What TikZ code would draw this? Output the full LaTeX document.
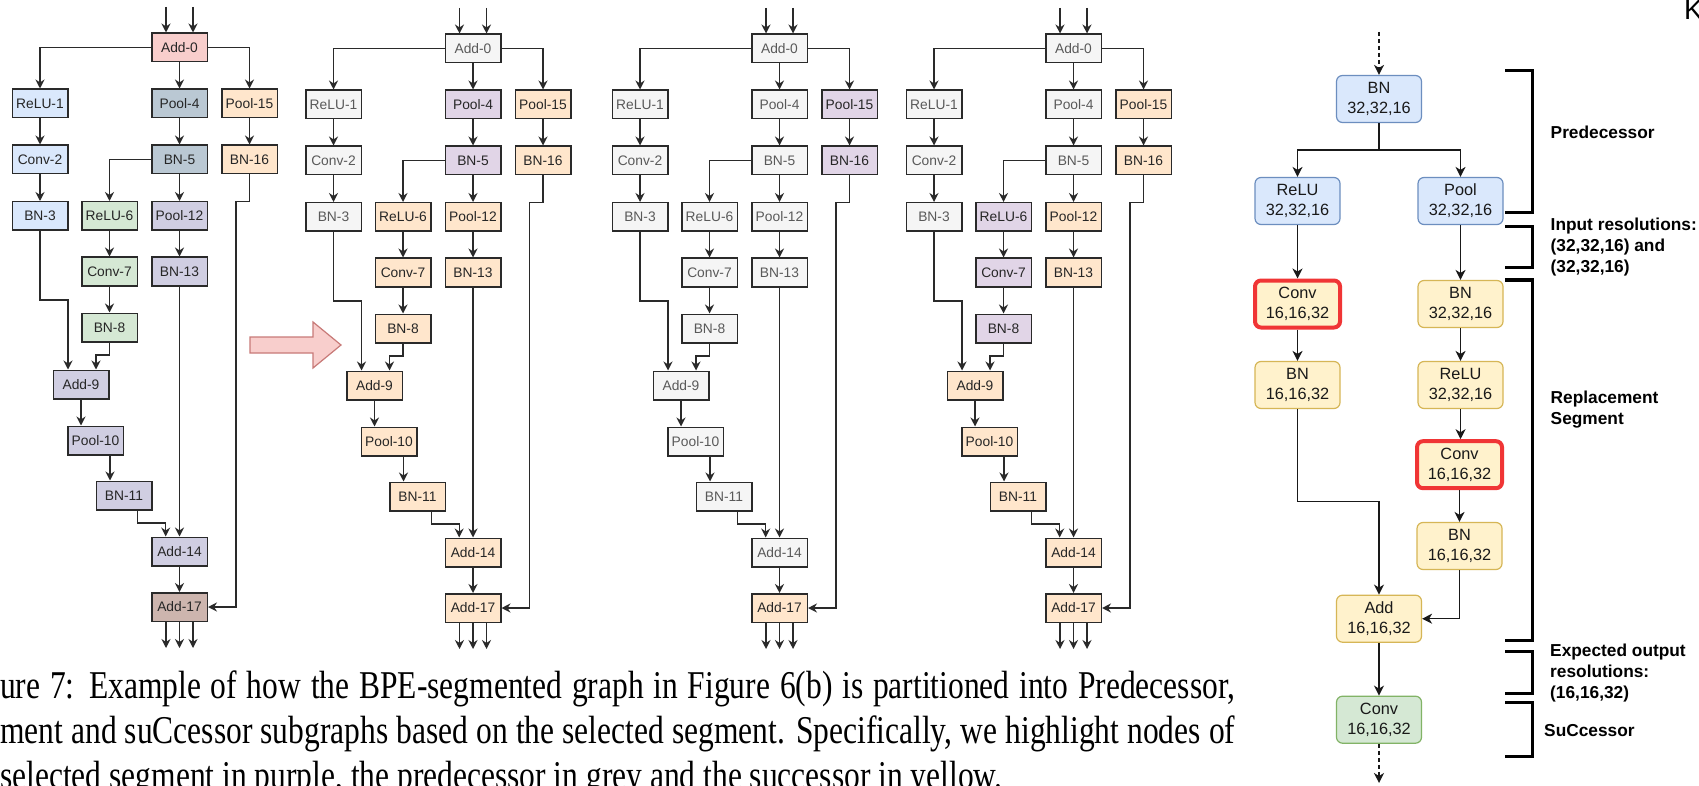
\documentclass[tikz,border=0pt]{standalone}
\usepackage{fontspec}
\usepackage{graphicx}
\setmainfont{Liberation Serif}
\setsansfont{Liberation Sans}
\usetikzlibrary{arrows.meta,calc}
\definecolor{cPink}{HTML}{F8CECC}
\definecolor{cBlue}{HTML}{DAE8FC}
\definecolor{cSlate}{HTML}{BAC8D3}
\definecolor{cGreen}{HTML}{D5E8D4}
\definecolor{cLav}{HTML}{D0CEE2}
\definecolor{cOrange}{HTML}{FFE6CC}
\definecolor{cGrey}{HTML}{F5F5F5}
\definecolor{cPurple}{HTML}{E1D5E7}
\definecolor{cBrown}{HTML}{CDB5AE}
\definecolor{cYellow}{HTML}{FFF2CC}
\definecolor{cYellowD}{HTML}{D6B656}
\definecolor{cBlueD}{HTML}{6C8EBF}
\definecolor{cGreenD}{HTML}{82B366}
\definecolor{cRed}{HTML}{F03535}
\definecolor{cPinkD}{HTML}{C87A78}
\definecolor{cLine}{HTML}{2A2A2A}
\tikzset{
  gbox/.style={draw=cLine, line width=1.5pt, minimum width=55.5pt, minimum height=28.5pt,
    inner sep=0pt, font=\sffamily\fontsize{13.8pt}{16pt}\selectfont, text=black!85},
  gedge/.style={draw=cLine, line width=1.4pt, -{Stealth[length=9pt,width=9pt,inset=3pt]}},
  fillPink/.style={fill=cPink},
  fillBlue/.style={fill=cBlue},
  fillSlate/.style={fill=cSlate},
  fillGreen/.style={fill=cGreen},
  fillLav/.style={fill=cLav},
  fillOrange/.style={fill=cOrange},
  fillGrey/.style={fill=cGrey, text=black!65},
  fillPurple/.style={fill=cPurple},
  fillBrown/.style={fill=cBrown},
  rbox/.style={rounded corners=6pt, minimum width=85pt, minimum height=47pt, align=center,
    inner sep=0pt, line width=1.2pt, text=black!90, font=\sffamily\fontsize{16.3pt}{20pt}\selectfont},
  rblue/.style={rbox, fill=cBlue, draw=cBlueD},
  ryel/.style={rbox, fill=cYellow, draw=cYellowD},
  rred/.style={rbox, fill=cYellow, draw=cRed, line width=4pt},
  rgreen/.style={rbox, fill=cGreen, draw=cGreenD},
  redge/.style={draw=black!90, line width=1.4pt, -{Stealth[length=10pt,width=10pt,inset=3pt]}},
  rdash/.style={redge, dash pattern=on 4pt off 3pt},
  bracketline/.style={draw=black, line width=3pt},
  lab/.style={font=\sffamily\bfseries\fontsize{17.3pt}{21pt}\selectfont, align=left, anchor=west, inner sep=0pt},
  captext/.style={anchor=base west, inner sep=0pt, font=\fontsize{31.5pt}{37pt}\selectfont}
}
\newcommand\mygraph[1]{%
  \node[gbox,f0] (#1n0) at (179.5,47.5) {Add-0};
  \node[gbox,f1] (#1n1) at (40,103.5) {ReLU-1};
  \node[gbox,f2] (#1n2) at (40,159.5) {Conv-2};
  \node[gbox,f3] (#1n3) at (40,216) {BN-3};
  \node[gbox,f4] (#1n4) at (179.5,103.5) {Pool-4};
  \node[gbox,f5] (#1n5) at (179.5,159.5) {BN-5};
  \node[gbox,f6] (#1n6) at (109.5,216) {ReLU-6};
  \node[gbox,f7] (#1n7) at (109.5,271.5) {Conv-7};
  \node[gbox,f8] (#1n8) at (109.5,327.5) {BN-8};
  \node[gbox,f9] (#1n9) at (81,384.5) {Add-9};
  \node[gbox,f10] (#1n10) at (95.5,440.5) {Pool-10};
  \node[gbox,f11] (#1n11) at (124,495.5) {BN-11};
  \node[gbox,f12] (#1n12) at (179.5,216) {Pool-12};
  \node[gbox,f13] (#1n13) at (179.5,271.5) {BN-13};
  \node[gbox,f14] (#1n14) at (179.5,551.5) {Add-14};
  \node[gbox,f15] (#1n15) at (249.5,103.5) {Pool-15};
  \node[gbox,f16] (#1n16) at (249.5,159.5) {BN-16};
  \node[gbox,f17] (#1n17) at (179.5,607) {Add-17};
  \coordinate (#1i1) at (166,7);
  \coordinate (#1i2) at (193,7);
  \coordinate (#1b3) at (68,300);
  \coordinate (#1b8) at (96,355);
  \coordinate (#1b10) at (110,0);
  \coordinate (#1p) at (137.7,523);
  \coordinate (#1q) at (165.7,523);
  \coordinate (#1b16) at (236,201.7);
  \coordinate (#1o1) at (166,648);
  \coordinate (#1o2) at (179.5,648);
  \coordinate (#1o3) at (193,648);
  \draw[gedge] (#1i1) -- (#1i1 |- #1n0.north);
  \draw[gedge] (#1i2) -- (#1i2 |- #1n0.north);
  \draw[gedge] (#1n0.west) -| (#1n1.north);
  \draw[gedge] (#1n0.south) -- (#1n4.north);
  \draw[gedge] (#1n0.east) -| (#1n15.north);
  \draw[gedge] (#1n1.south) -- (#1n2.north);
  \draw[gedge] (#1n2.south) -- (#1n3.north);
  \draw[gedge] (#1n4.south) -- (#1n5.north);
  \draw[gedge] (#1n5.west) -| (#1n6.north);
  \draw[gedge] (#1n5.south) -- (#1n12.north);
  \draw[gedge] (#1n12.south) -- (#1n13.north);
  \draw[gedge] (#1n6.south) -- (#1n7.north);
  \draw[gedge] (#1n7.south) -- (#1n8.north);
  \draw[gedge] (#1n15.south) -- (#1n16.north);
  \draw[gedge] (#1n3.south) |- (#1b3) -- (#1b3 |- #1n9.north);
  \draw[gedge] (#1n8.south) |- (#1b8) -- (#1b8 |- #1n9.north);
  \draw[gedge] (#1n9.south) -- (#1n9.south |- #1n10.north);
  \draw[gedge] (#1b10 |- #1n10.south) -- (#1b10 |- #1n11.north);
  \draw[gedge] (#1p |- #1n11.south) -- (#1p) -- (#1q) -- (#1q |- #1n14.north);
  \draw[gedge] (#1n13.south) -- (#1n14.north);
  \draw[gedge] (#1n14.south) -- (#1n17.north);
  \draw[gedge] (#1n16.south) |- (#1b16) |- (#1n17.east);
  \draw[gedge] (#1o1 |- #1n17.south) -- (#1o1);
  \draw[gedge] (#1o2 |- #1n17.south) -- (#1o2);
  \draw[gedge] (#1o3 |- #1n17.south) -- (#1o3);
}
\begin{document}
\begin{tikzpicture}[x=1pt,y=-1pt]
\useasboundingbox[fill=white] (0,0) rectangle (1699,786);

% ---- graph 1 ----
\begin{scope}[f0/.style=fillPink, f1/.style=fillBlue, f2/.style=fillBlue, f3/.style=fillBlue,
  f4/.style=fillSlate, f5/.style=fillSlate, f6/.style=fillGreen, f7/.style=fillGreen, f8/.style=fillGreen,
  f9/.style=fillLav, f10/.style=fillLav, f11/.style=fillLav, f12/.style=fillLav, f13/.style=fillLav,
  f14/.style=fillLav, f15/.style=fillOrange, f16/.style=fillOrange, f17/.style=fillBrown]
\mygraph{A}
\end{scope}

% ---- graph 2 ----
\begin{scope}[xshift=293.5pt, yshift=-1pt,
  f0/.style=fillGrey, f1/.style=fillGrey, f2/.style=fillGrey, f3/.style=fillGrey,
  f4/.style=fillPurple, f5/.style=fillPurple, f6/.style=fillOrange, f7/.style=fillOrange, f8/.style=fillOrange,
  f9/.style=fillOrange, f10/.style=fillOrange, f11/.style=fillOrange, f12/.style=fillOrange, f13/.style=fillOrange,
  f14/.style=fillOrange, f15/.style=fillOrange, f16/.style=fillOrange, f17/.style=fillOrange]
\mygraph{B}
\end{scope}

% ---- graph 3 ----
\begin{scope}[xshift=600pt, yshift=-1pt,
  f0/.style=fillGrey, f1/.style=fillGrey, f2/.style=fillGrey, f3/.style=fillGrey,
  f4/.style=fillGrey, f5/.style=fillGrey, f6/.style=fillGrey, f7/.style=fillGrey, f8/.style=fillGrey,
  f9/.style=fillGrey, f10/.style=fillGrey, f11/.style=fillGrey, f12/.style=fillGrey, f13/.style=fillGrey,
  f14/.style=fillGrey, f15/.style=fillPurple, f16/.style=fillPurple, f17/.style=fillOrange]
\mygraph{C}
\end{scope}

% ---- graph 4 ----
\begin{scope}[xshift=894pt, yshift=-1pt,
  f0/.style=fillGrey, f1/.style=fillGrey, f2/.style=fillGrey, f3/.style=fillGrey,
  f4/.style=fillGrey, f5/.style=fillGrey, f6/.style=fillPurple, f7/.style=fillPurple, f8/.style=fillPurple,
  f9/.style=fillOrange, f10/.style=fillOrange, f11/.style=fillOrange, f12/.style=fillOrange, f13/.style=fillOrange,
  f14/.style=fillOrange, f15/.style=fillOrange, f16/.style=fillOrange, f17/.style=fillOrange]
\mygraph{D}
\end{scope}

% ---- pink block arrow ----
\draw[fill=cPink, draw=cPinkD, line width=1.2pt]
  (250,337) -- (313,337) -- (313,322) -- (341,345) -- (313,368) -- (313,353) -- (250,353) -- cycle;

% ---- right panel ----
\node[rblue] (r1) at (1379,99) {BN\\32,32,16};
\node[rblue] (r2) at (1297.5,201) {ReLU\\32,32,16};
\node[rblue] (r3) at (1460.5,201) {Pool\\32,32,16};
\node[rred] (r4) at (1297.5,304) {Conv\\16,16,32};
\node[ryel] (r5) at (1460.5,304) {BN\\32,32,16};
\node[ryel] (r6) at (1297.5,385) {BN\\16,16,32};
\node[ryel] (r7) at (1460.5,385) {ReLU\\32,32,16};
\node[rred] (r8) at (1459.5,464.7) {Conv\\16,16,32};
\node[ryel] (r9) at (1459.5,546) {BN\\16,16,32};
\node[ryel] (r10) at (1379,618.7) {Add\\16,16,32};
\node[rgreen] (r11) at (1379,719.7) {Conv\\16,16,32};
\coordinate (rin) at (1379,32);
\coordinate (rout) at (1379,783);
\coordinate (rsplit) at (1379,150);
\coordinate (rjoin) at (1379,501.7);
\draw[rdash] (rin) -- (r1.north);
\draw[redge] (r1.south) -- (rsplit) -| (r2.north);
\draw[redge] (rsplit) -| (r3.north);
\draw[redge] (r2.south) -- (r4.north);
\draw[redge] (r3.south) -- (r5.north);
\draw[redge] (r4.south) -- (r6.north);
\draw[redge] (r5.south) -- (r7.north);
\draw[redge] (r7.south) -- (r7.south |- r8.north);
\draw[redge] (r8.south) -- (r9.north);
\draw[redge] (r6.south) |- (rjoin) -- (r10.north);
\draw[redge] (r9.south) |- (r10.east);
\draw[redge] (r10.south) -- (r11.north);
\draw[rdash] (r11.south) -- (rout);

% ---- brackets ----
\draw[bracketline] (1505,71) -- (1532,71) -- (1532,212.3) -- (1505,212.3);
\draw[bracketline] (1505,226.7) -- (1532,226.7) -- (1532,267.3) -- (1505,267.3);
\draw[bracketline] (1505,280) -- (1532,280) -- (1532,640.7) -- (1505,640.7);
\draw[bracketline] (1505,651.7) -- (1532,651.7) -- (1532,693.3) -- (1505,693.3);
\draw[bracketline] (1505,702.7) -- (1532,702.7) -- (1532,756.7) -- (1505,756.7);

\node[lab] (lpred) at (1550.5,132.7) {Predecessor};
\node[lab] (linp) at (1550.5,247.5) {Input resolutions:\\(32,32,16) and\\(32,32,16)};
\node[lab] (lrep) at (1550.5,409.5) {Replacement\\Segment};
\node[lab] (lexp) at (1550,673) {Expected output\\resolutions:\\(16,16,32)};
\node[lab] (lsuc) at (1544,731) {SuCcessor};

\node[anchor=north west, inner sep=0pt, font=\sffamily\fontsize{28pt}{28pt}\selectfont] (kk) at (1684,0) {K};

% ---- caption ----
\node[captext] (cap1) at (0,698) {\scalebox{1}[1.25]{\hbox to 1235pt{ure 7: Example of how the BPE-segmented graph in Figure 6(b) is partitioned into Predecessor,}}};
\node[captext] (cap2) at (0,743) {\scalebox{1}[1.25]{\hbox to 1235pt{ment and suCcessor subgraphs based on the selected segment. Specifically, we highlight nodes of}}};
\node[captext] (cap3) at (0,788) {\scalebox{1}[1.25]{selected segment in purple, the predecessor in grey and the successor in yellow.}};
\end{tikzpicture}
\end{document}
